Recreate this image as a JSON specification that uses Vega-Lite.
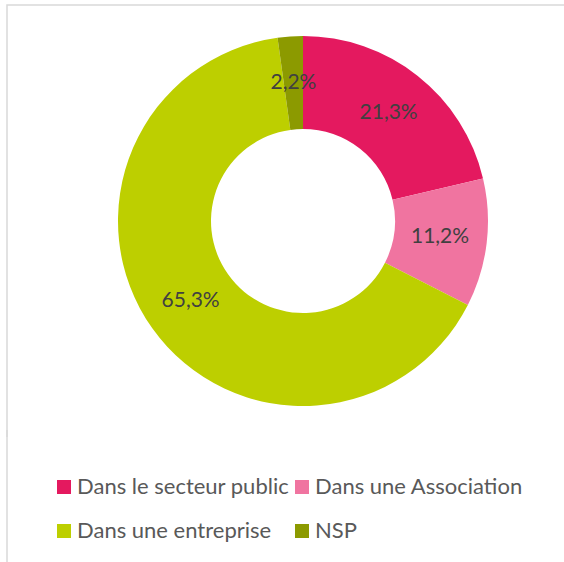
{
  "$schema": "https://vega.github.io/schema/vega-lite/v6.json",
  "width": 592,
  "height": 432,
  "padding": {"left": 6, "top": 5, "right": 0, "bottom": 0},
  "background": "white",
  "view": {"stroke": "#D9D9D9", "strokeWidth": 1.5, "strokeDash": [592, 1024, 432]},
  "data": {
    "values": [
      {"cat": "Dans le secteur public", "value": 21.3, "label": "21,3%", "order": 1},
      {"cat": "Dans une Association", "value": 11.2, "label": "11,2%", "order": 2},
      {"cat": "Dans une entreprise", "value": 65.3, "label": "65,3%", "order": 3},
      {"cat": "NSP", "value": 2.2, "label": "2,2%", "order": 4}
    ]
  },
  "encoding": {
    "theta": {"field": "value", "type": "quantitative", "stack": true},
    "order": {"field": "order", "type": "quantitative"}
  },
  "layer": [
    {
      "mark": {"type": "arc", "outerRadius": 185, "innerRadius": 92},
      "encoding": {
        "color": {
          "field": "cat",
          "type": "nominal",
          "scale": {
            "domain": ["Dans le secteur public", "Dans une entreprise", "Dans une Association", "NSP"],
            "range": ["#E4195F", "#BDCF00", "#F074A0", "#8C9A00"]
          },
          "legend": {
            "title": null,
            "orient": "none",
            "legendX": 0,
            "legendY": 425,
            "padding": 46,
            "strokeColor": "#D9D9D9",
            "columns": 2,
            "columnPadding": 1,
            "rowPadding": 22,
            "symbolType": "square",
            "symbolSize": 196,
            "symbolStrokeWidth": 0,
            "symbolOffset": 0,
            "labelOffset": 2,
            "labelFont": "Lato",
            "labelFontSize": 22,
            "labelColor": "#595959",
            "labelLimit": 400
          }
        }
      }
    },
    {
      "mark": {"type": "text", "radius": 138, "font": "Lato", "fontSize": 21, "color": "#404040", "align": "center", "baseline": "middle"},
      "encoding": {
        "text": {"field": "label", "type": "nominal"}
      }
    }
  ],
  "config": {
    "legend": {"strokeDash": [0, 1000, 5000], "strokeWidth": 1.5}
  }
}
